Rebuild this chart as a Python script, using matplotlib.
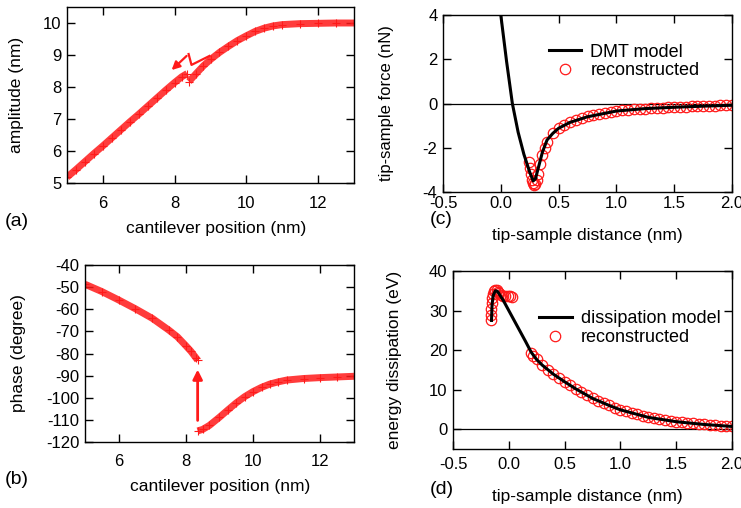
import matplotlib
matplotlib.use('Agg')
from matplotlib import pyplot as plt

plt.rcParams['font.family'] = ['Liberation Sans', 'DejaVu Sans']
plt.rcParams['font.size'] = 12
plt.rcParams['axes.unicode_minus'] = False

# (a) amplitude vs cantilever position, two branches
amp_low_x = [5.0, 5.25, 5.5, 5.75, 6.0, 6.25, 6.5, 6.75, 7.0, 7.25, 7.5, 7.75, 8.0, 8.2, 8.35]
amp_low_y = [5.18, 5.42, 5.67, 5.92, 6.16, 6.41, 6.66, 6.91, 7.15, 7.40, 7.65, 7.90, 8.14, 8.32, 8.42]
amp_high_x = [8.4, 8.6, 8.8, 9.0, 9.25, 9.5, 9.75, 10.0, 10.25, 10.5, 10.75, 11.0, 11.5, 12.0, 12.5, 13.0]
amp_high_y = [8.17, 8.42, 8.66, 8.86, 9.08, 9.27, 9.45, 9.60, 9.74, 9.84, 9.91, 9.95, 9.98, 9.99, 10.0, 10.0]

# (b) phase vs cantilever position
ph_low_x = [5.0, 5.5, 6.0, 6.5, 7.0, 7.5, 7.75, 8.0, 8.15, 8.3, 8.35]
ph_low_y = [-48.7, -52.0, -55.8, -59.8, -64.1, -69.5, -72.5, -76.5, -79.0, -82.0, -83.0]
ph_high_x = [8.35, 8.5, 8.7, 9.0, 9.25, 9.5, 9.75, 10.0, 10.25, 10.5, 10.75, 11.0, 11.5, 12.0, 12.5, 13.0]
ph_high_y = [-115.0, -114.3, -112.5, -108.8, -105.5, -102.3, -99.5, -97.2, -95.3, -93.8, -92.8, -92.0, -91.3, -90.9, -90.6, -90.3]

# (c) tip-sample force
dmt_x = [0.0, 0.05, 0.1, 0.15, 0.2, 0.25, 0.28, 0.3, 0.33, 0.36, 0.4, 0.45, 0.5, 0.6, 0.75, 1.0, 1.25, 1.5, 1.75, 2.0]
dmt_y = [4.0, 1.9, 0.0, -1.3, -2.3, -3.1, -3.5, -3.4, -2.8, -2.2, -1.65, -1.35, -1.12, -0.85, -0.6, -0.34, -0.23, -0.17, -0.12, -0.08]
rec_f_x = [0.24, 0.25, 0.26, 0.27, 0.28, 0.29, 0.30, 0.31, 0.32, 0.34, 0.36, 0.38, 0.4, 0.45, 0.5, 0.55, 0.6, 0.65,
           0.7, 0.75, 0.8, 0.85, 0.9, 0.95, 1.0, 1.05, 1.1, 1.15, 1.2, 1.25, 1.3, 1.35, 1.4, 1.45, 1.5, 1.55, 1.6,
           1.65, 1.7, 1.75, 1.8, 1.85, 1.9, 1.95, 2.0]
rec_f_y = [-2.65, -2.9, -3.2, -3.45, -3.6, -3.7, -3.65, -3.45, -3.2, -2.75, -2.35, -2.0, -1.72, -1.35, -1.12, -0.95,
           -0.83, -0.73, -0.65, -0.58, -0.52, -0.47, -0.42, -0.38, -0.34, -0.31, -0.29, -0.27, -0.25, -0.235, -0.22,
           -0.205, -0.19, -0.175, -0.16, -0.15, -0.14, -0.13, -0.12, -0.11, -0.1, -0.095, -0.09, -0.085, -0.08]

# (d) energy dissipation
dis_x = [-0.155, -0.15, -0.14, -0.12, -0.10, -0.05, 0.0, 0.05, 0.1, 0.15, 0.2, 0.25, 0.3, 0.4, 0.5, 0.6, 0.75, 0.9,
         1.0, 1.25, 1.5, 1.75, 2.0]
dis_y = [27.5, 31.5, 33.8, 35.0, 34.8, 32.6, 30.0, 27.4, 24.8, 22.2, 19.5, 17.6, 16.2, 13.9, 12.0, 10.2, 7.8, 6.0,
         4.9, 3.0, 1.9, 1.2, 0.7]
rec_e_x = [-0.16, -0.16, -0.158, -0.155, -0.15, -0.14, -0.13, -0.12, -0.11, -0.10, -0.09, -0.07, -0.05, -0.03, -0.01,
           0.01, 0.03,
           0.2, 0.22, 0.25, 0.3, 0.35, 0.4, 0.45, 0.5, 0.55, 0.6, 0.65, 0.7, 0.75, 0.8, 0.85, 0.9, 0.95, 1.0, 1.05,
           1.1, 1.15, 1.2, 1.25, 1.3, 1.35, 1.4, 1.45, 1.5, 1.55, 1.6, 1.65, 1.7, 1.75, 1.8, 1.85, 1.9, 1.95, 2.0]
rec_e_y = [27.5, 29.0, 30.5, 32.0, 33.3, 34.3, 35.0, 35.2, 35.1, 34.8, 34.5, 34.0, 33.7, 33.6, 33.6, 33.6, 33.5,
           19.3, 18.6, 17.8, 16.3, 15.0, 13.9, 12.9, 12.0, 11.1, 10.2, 9.4, 8.6, 7.8, 7.2, 6.6, 6.0, 5.4, 4.9, 4.5,
           4.1, 3.75, 3.4, 3.1, 2.8, 2.55, 2.3, 2.1, 1.9, 1.75, 1.6, 1.45, 1.3, 1.2, 1.1, 1.0, 0.9, 0.8, 0.7]

W, H = 741, 508
fig = plt.figure(figsize=(W / 100, H / 100), dpi=100)


def box(l, r, t, b):
    return [l / W, (H - b) / H, (r - l) / W, (b - t) / H]


def style(ax, xpad):
    ax.tick_params(direction='in', top=True, right=True, length=6, width=1, labelsize=12)
    ax.tick_params(axis='x', pad=xpad)
    ax.tick_params(axis='y', pad=4)
    for s in ax.spines.values():
        s.set_linewidth(1)


def place_labels(ax, l, r, t, b, xl_center, xl_top, yl_right):
    # pixel positions of the axis labels, converted to axes fractions
    ax.xaxis.set_label_coords((xl_center - l) / (r - l), -(xl_top - b) / (b - t))
    ax.yaxis.set_label_coords(-(l - yl_right) / (r - l), 0.5)


red = '#ff1a1a'
lab = 12.5

# (a)
ax1 = fig.add_axes(box(67, 354, 7, 183))
for xs, ys in [(amp_low_x, amp_low_y), (amp_high_x, amp_high_y)]:
    ax1.plot(xs, ys, color=red, lw=5, alpha=0.85, solid_capstyle='butt')
    ax1.plot(xs, ys, '+', color=red, ms=6, mew=0.8)
ax1.plot([8.97, 8.47, 8.39], [8.97, 8.69, 9.03], color=red, lw=1.6)
ax1.annotate('', xy=(7.86, 8.47), xytext=(8.39, 9.03),
             arrowprops=dict(arrowstyle='-|>', color=red, lw=1.6, mutation_scale=12))
ax1.set_xlim(5, 13)
ax1.set_ylim(5, 10.5)
ax1.set_xticks([6, 8, 10, 12])
ax1.set_yticks([5, 6, 7, 8, 9, 10])
ax1.set_xlabel('cantilever position (nm)', fontsize=lab)
ax1.set_ylabel('amplitude (nm)', fontsize=lab)
style(ax1, 9)
place_labels(ax1, 67, 354, 7, 183, 216, 221, 24)

# (b)
ax2 = fig.add_axes(box(85, 354, 265, 442))
for xs, ys in [(ph_low_x, ph_low_y), (ph_high_x, ph_high_y)]:
    ax2.plot(xs, ys, color=red, lw=5, alpha=0.85, solid_capstyle='butt')
    ax2.plot(xs, ys, '+', color=red, ms=6, mew=0.8)
ax2.annotate('', xy=(8.35, -86), xytext=(8.35, -111.5),
             arrowprops=dict(arrowstyle='-|>', color=red, lw=2, mutation_scale=14))
ax2.set_xlim(5, 13)
ax2.set_ylim(-120, -40)
ax2.set_xticks([6, 8, 10, 12])
ax2.set_yticks(range(-120, -39, 10))
ax2.set_xlabel('cantilever position (nm)', fontsize=lab)
ax2.set_ylabel('phase (degree)', fontsize=lab)
style(ax2, 9)
place_labels(ax2, 85, 354, 265, 442, 220, 479, 26)

# (c)
ax3 = fig.add_axes(box(443, 732, 15, 192))
ax3.axhline(0, color='black', lw=0.9)
ax3.plot(rec_f_x, rec_f_y, 'o', mfc='none', mec=red, ms=7.5, mew=0.9, label='reconstructed')
ax3.plot(dmt_x, dmt_y, color='black', lw=2.2, label='DMT model')
ax3.set_xlim(-0.5, 2.0)
ax3.set_ylim(-4, 4)
ax3.set_xticks([-0.5, 0.0, 0.5, 1.0, 1.5, 2.0])
ax3.set_xticklabels(['-0.5', '0.0', '0.5', '1.0', '1.5', '2.0'])
ax3.set_yticks([-4, -2, 0, 2, 4])
ax3.set_xlabel('tip-sample distance (nm)', fontsize=lab)
ax3.set_ylabel('tip-sample force (nN)', fontsize=12)
h, l = ax3.get_legend_handles_labels()
ax3.legend(h[::-1], l[::-1], loc='upper left', bbox_to_anchor=(0.31, 0.93), frameon=False, fontsize=13,
           handlelength=1.8, labelspacing=0.1, handletextpad=0.5)
style(ax3, 3)
place_labels(ax3, 443, 732, 15, 192, 587, 228, 394)

# (d)
ax4 = fig.add_axes(box(453, 732, 271, 449))
ax4.axhline(0, color='black', lw=0.9)
ax4.plot(rec_e_x, rec_e_y, 'o', mfc='none', mec=red, ms=7.5, mew=0.9, label='reconstructed')
ax4.plot(dis_x, dis_y, color='black', lw=2.2, label='dissipation model')
ax4.set_xlim(-0.5, 2.0)
ax4.set_ylim(-5, 40)
ax4.set_xticks([-0.5, 0.0, 0.5, 1.0, 1.5, 2.0])
ax4.set_xticklabels(['-0.5', '0.0', '0.5', '1.0', '1.5', '2.0'])
ax4.set_yticks([0, 10, 20, 30, 40])
ax4.set_xlabel('tip-sample distance (nm)', fontsize=lab)
ax4.set_ylabel('energy dissipation (eV)', fontsize=lab)
h, l = ax4.get_legend_handles_labels()
ax4.legend(h[::-1], l[::-1], loc='upper left', bbox_to_anchor=(0.25, 0.87), frameon=False, fontsize=13,
           handlelength=1.8, labelspacing=0.1, handletextpad=0.5)
style(ax4, 6)
place_labels(ax4, 453, 732, 271, 449, 587, 489, 402)

# panel letters
fig.text(5 / W, 1 - 221 / H, '(a)', fontsize=14, va='center')
fig.text(5 / W, 1 - 480 / H, '(b)', fontsize=14, va='center')
fig.text(430 / W, 1 - 220 / H, '(c)', fontsize=14, va='center')
fig.text(430 / W, 1 - 490 / H, '(d)', fontsize=14, va='center')

fig.savefig('out.png', dpi=100)
